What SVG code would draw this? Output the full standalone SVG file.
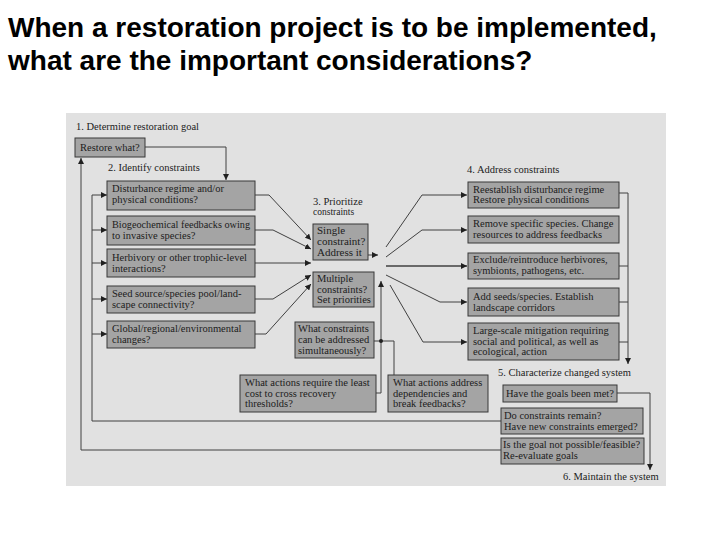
<svg xmlns="http://www.w3.org/2000/svg" width="720" height="540" viewBox="0 0 720 540">
<style>
.title{font-family:"Liberation Sans",Arial,sans-serif;font-weight:bold;font-size:28px;fill:#000}
.t{font-family:"Liberation Serif","DejaVu Serif",serif;font-size:10.5px;fill:#1c1c1c}
.h{font-family:"Liberation Serif","DejaVu Serif",serif;font-size:10.5px;fill:#222}
.box{fill:#a4a4a4;stroke:#383838;stroke-width:1}
.ln{fill:none;stroke:#404040;stroke-width:1}
.lna{fill:none;stroke:#404040;stroke-width:1;marker-end:url(#ah)}
</style>
<defs>
<marker id="ah" markerUnits="userSpaceOnUse" markerWidth="6" markerHeight="6" refX="6" refY="3" orient="auto">
<path d="M0,0 L6,3 L0,6 z" fill="#202020"/>
</marker>
</defs>
<rect width="720" height="540" fill="#fff"/>
<text class="title" x="8" y="37">When a restoration project is to be implemented,</text>
<text class="title" x="8" y="70">what are the important considerations?</text>
<rect x="66" y="113" width="600" height="373" fill="#e1e1e1"/>

<g id="headings">
<text class="h" x="76" y="130">1. Determine restoration goal</text>
<text class="h" x="108" y="171">2. Identify constraints</text>
<text class="h" x="313" y="205">3. Prioritize</text>
<text class="h" x="313" y="215" style="font-size:9.5px">constraints</text>
<text class="h" x="467" y="173">4. Address constraints</text>
<text class="h" x="498" y="376">5. Characterize changed system</text>
<text class="h" x="563" y="480">6. Maintain the system</text>
</g>

<g id="connectors">
<path class="lna" d="M145,147 H226 V180"/>
<path class="lna" d="M81,450 V158"/>
<path class="ln" d="M92,421 V195"/>
<path class="lna" d="M92,195 H107"/>
<path class="lna" d="M92,230 H107"/>
<path class="lna" d="M92,263 H107"/>
<path class="lna" d="M92,299 H107"/>
<path class="lna" d="M92,334 H107"/>
<path class="lna" d="M255,195 H269 L311,240"/>
<path class="lna" d="M255,230 H273 L311,249"/>
<path class="lna" d="M255,263 H311"/>
<path class="lna" d="M255,299 H273 L311,275"/>
<path class="lna" d="M255,334 H266 L311,284"/>
<path class="lna" d="M368,255 H378"/>
<path class="lna" d="M376,393 H381 V281"/>
<path class="ln" d="M374,341 H394 V375"/>
<circle cx="381" cy="341" r="2" fill="#202020"/>
<path class="lna" d="M386,247 L422,195 H467"/>
<path class="lna" d="M386,257 L422,230 H467"/>
<path class="lna" d="M386,266 H467" style="stroke-width:1.6"/>
<path class="lna" d="M386,275 L440,302 H467"/>
<path class="lna" d="M390,285 L423,342 H467"/>
<path class="ln" d="M619,193 H628"/>
<path class="ln" d="M619,266 H628"/>
<path class="ln" d="M619,302 H628"/>
<path class="ln" d="M619,342 H628"/>
<path class="lna" d="M628,193 V364"/>
<path class="lna" d="M617,393 H650 V470"/>
<path class="ln" d="M501,421 H92"/>
<path class="ln" d="M501,450 H81"/>
</g>

<g id="restore">
<rect class="box" x="75" y="138" width="70" height="19"/>
<text class="t" x="80" y="151">Restore what?</text>
</g>
<g id="disturbance">
<rect class="box" x="107" y="181" width="148" height="29"/>
<text class="t" x="112" y="192">Disturbance regime and/or</text>
<text class="t" x="112" y="203">physical conditions?</text>
</g>
<g id="biogeochemical">
<rect class="box" x="107" y="216" width="148" height="29"/>
<text class="t" x="112" y="228" textLength="138" lengthAdjust="spacingAndGlyphs">Biogeochemical feedbacks owing</text>
<text class="t" x="112" y="239">to invasive species?</text>
</g>
<g id="herbivory">
<rect class="box" x="107" y="249" width="148" height="28"/>
<text class="t" x="112" y="261">Herbivory or other trophic-level</text>
<text class="t" x="112" y="272">interactions?</text>
</g>
<g id="seed">
<rect class="box" x="107" y="286" width="148" height="27"/>
<text class="t" x="112" y="297">Seed source/species pool/land-</text>
<text class="t" x="112" y="308">scape connectivity?</text>
</g>
<g id="global">
<rect class="box" x="107" y="321" width="148" height="27"/>
<text class="t" x="112" y="332">Global/regional/environmental</text>
<text class="t" x="112" y="343">changes?</text>
</g>
<g id="single">
<rect class="box" x="313" y="224" width="55" height="36"/>
<text class="t" x="317" y="234" style="font-size:11px">Single</text>
<text class="t" x="317" y="245" style="font-size:11px">constraint?</text>
<text class="t" x="317" y="256" style="font-size:11px">Address it</text>
</g>
<g id="multiple">
<rect class="box" x="313" y="272" width="61" height="35"/>
<text class="t" x="317" y="282">Multiple</text>
<text class="t" x="317" y="293">constraints?</text>
<text class="t" x="317" y="303">Set priorities</text>
</g>
<g id="simultaneous">
<rect class="box" x="295" y="322" width="79" height="36"/>
<text class="t" x="298" y="332">What constraints</text>
<text class="t" x="298" y="343">can be addressed</text>
<text class="t" x="298" y="354">simultaneously?</text>
</g>
<g id="leastcost">
<rect class="box" x="240" y="375" width="136" height="37"/>
<text class="t" x="245" y="386">What actions require the least</text>
<text class="t" x="245" y="397">cost to cross recovery</text>
<text class="t" x="245" y="407">thresholds?</text>
</g>
<g id="dependencies">
<rect class="box" x="388" y="375" width="100" height="37"/>
<text class="t" x="393" y="386">What actions address</text>
<text class="t" x="393" y="397">dependencies and</text>
<text class="t" x="393" y="407">break feedbacks?</text>
</g>
<g id="reestablish">
<rect class="box" x="468" y="182" width="151" height="26"/>
<text class="t" x="473" y="193">Reestablish disturbance regime</text>
<text class="t" x="473" y="203">Restore physical conditions</text>
</g>
<g id="remove">
<rect class="box" x="468" y="216" width="151" height="27"/>
<text class="t" x="473" y="227">Remove specific species. Change</text>
<text class="t" x="473" y="238">resources to address feedbacks</text>
</g>
<g id="exclude">
<rect class="box" x="468" y="253" width="151" height="26"/>
<text class="t" x="473" y="263">Exclude/reintroduce herbivores,</text>
<text class="t" x="473" y="274">symbionts, pathogens, etc.</text>
</g>
<g id="addseeds">
<rect class="box" x="468" y="288" width="151" height="28"/>
<text class="t" x="473" y="300">Add seeds/species. Establish</text>
<text class="t" x="473" y="311">landscape corridors</text>
</g>
<g id="largescale">
<rect class="box" x="468" y="323" width="151" height="37"/>
<text class="t" x="473" y="334">Large-scale mitigation requiring</text>
<text class="t" x="473" y="345">social and political, as well as</text>
<text class="t" x="473" y="355">ecological, action</text>
</g>
<g id="goalsmet">
<rect class="box" x="503" y="385" width="114" height="17"/>
<text class="t" x="506" y="397">Have the goals been met?</text>
</g>
<g id="remain">
<rect class="box" x="501" y="408" width="142" height="26"/>
<text class="t" x="504" y="419">Do constraints remain?</text>
<text class="t" x="504" y="430">Have new constraints emerged?</text>
</g>
<g id="reevaluate">
<rect class="box" x="501" y="438" width="143" height="26"/>
<text class="t" x="503" y="448">Is the goal not possible/feasible?</text>
<text class="t" x="503" y="459">Re-evaluate goals</text>
</g>
</svg>
